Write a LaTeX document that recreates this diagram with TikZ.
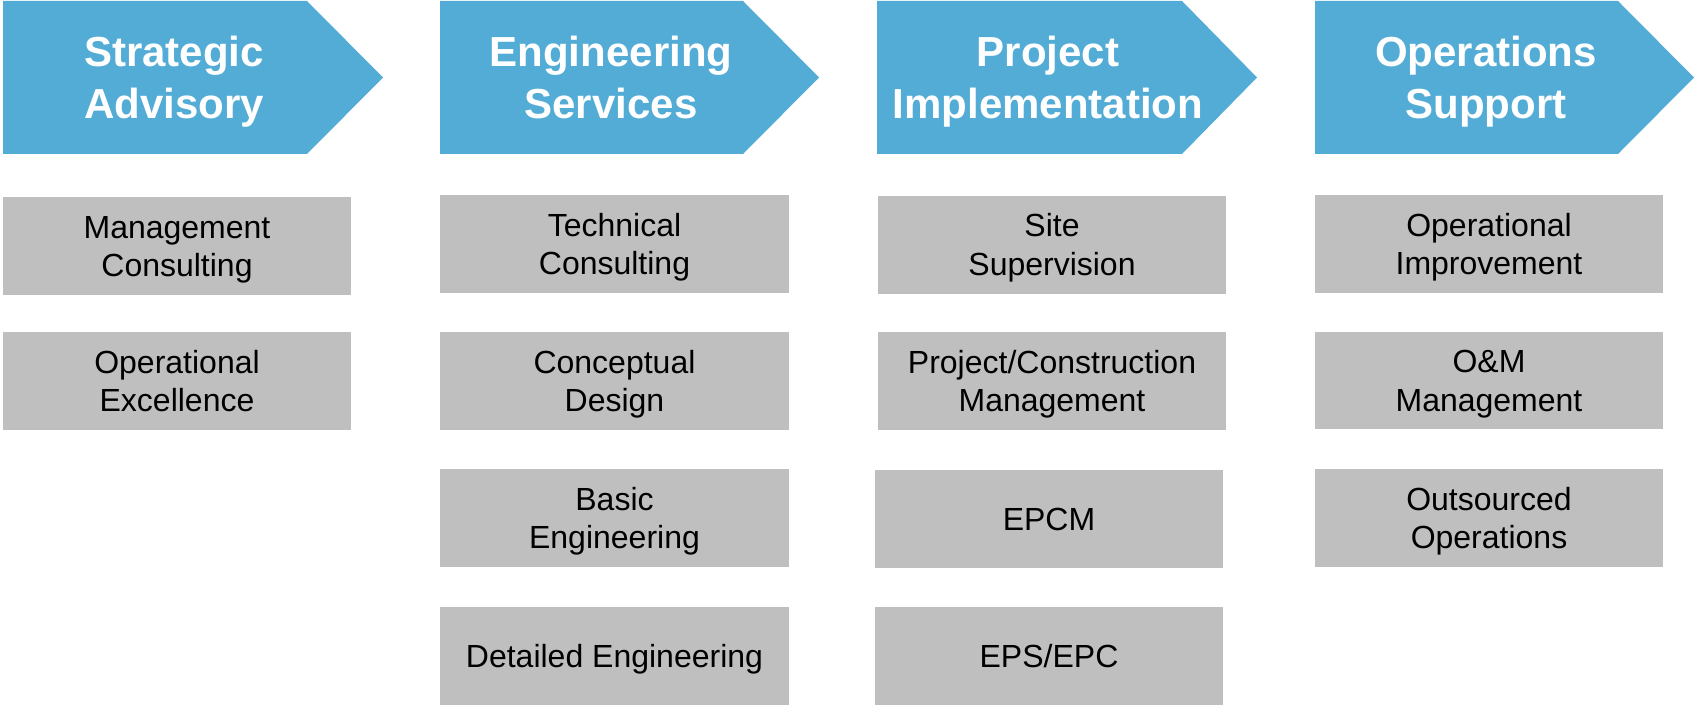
\documentclass[tikz,border=0pt]{standalone}
\usepackage{fontspec}
\setmainfont{Liberation Sans}
\definecolor{hdr}{RGB}{83,172,213}
\definecolor{cell}{RGB}{191,191,191}
\newcommand\cellfirst{\rule{0pt}{35pt}}
\newcommand\celllast{\rule[-11.55pt]{0pt}{0pt}}
\newcommand\hdrstrut{\rule[-15.6pt]{0pt}{52pt}}
\begin{document}
\begin{tikzpicture}[x=1pt,y=-1pt,
  chevron/.style={fill=hdr,draw=none},
  hdrtext/.style={text=white,font=\fontsize{42}{52}\selectfont\bfseries,align=center,inner sep=0pt},
  cellbox/.style={fill=cell,draw=none,inner sep=0pt,align=center,minimum width=348pt,minimum height=98pt,font=\fontsize{32}{38.5}\selectfont}
]
\useasboundingbox (0,0) rectangle (1695,706);
% header chevrons
\path[chevron] (3,1) -- (307,1) -- (383,77.5) -- (307,154) -- (3,154) -- cycle;
\path[chevron] (440,1) -- (743,1) -- (819,77.5) -- (743,154) -- (440,154) -- cycle;
\path[chevron] (877,1) -- (1182,1) -- (1257,77.5) -- (1182,154) -- (877,154) -- cycle;
\path[chevron] (1315,1) -- (1618,1) -- (1694,77.5) -- (1618,154) -- (1315,154) -- cycle;
\node[hdrtext] (h1) at (174,82.5) {\hdrstrut Strategic\\\hdrstrut Advisory};
\node[hdrtext] (h2) at (611,82.5) {\hdrstrut Engineering\\\hdrstrut Services};
\node[hdrtext] (h3) at (1048,82.5) {\hdrstrut Project\\\hdrstrut Implementation};
\node[hdrtext] (h4) at (1486,82.5) {\hdrstrut Operations\\\hdrstrut Support};
% column 1
\node[cellbox] (a1) at (177,246) {\cellfirst Management\\Consulting\celllast};
\node[cellbox] (a2) at (177,381) {\cellfirst Operational\\Excellence\celllast};
% column 2
\node[cellbox,minimum width=349pt] (b1) at (614.5,244) {\cellfirst Technical\\Consulting\celllast};
\node[cellbox,minimum width=349pt] (b2) at (614.5,381) {\cellfirst Conceptual\\Design\celllast};
\node[cellbox,minimum width=349pt] (b3) at (614.5,518) {\cellfirst Basic\\Engineering\celllast};
\node[cellbox,minimum width=349pt] (b4) at (614.5,656) {\cellfirst Detailed Engineering\celllast};
% column 3
\node[cellbox] (c1) at (1052,244.5) {\cellfirst Site\\Supervision\celllast};
\node[cellbox] (c2) at (1052,381) {\cellfirst Project/Construction\\Management\celllast};
\node[cellbox] (c3) at (1049,519) {\cellfirst EPCM\celllast};
\node[cellbox] (c4) at (1049,656) {\cellfirst EPS/EPC\celllast};
% column 4
\node[cellbox] (d1) at (1489,244) {\cellfirst Operational\\Improvement\celllast};
\node[cellbox,minimum height=97pt] (d2) at (1489,380.5) {\cellfirst O\&M\\Management\celllast};
\node[cellbox] (d3) at (1489,518) {\cellfirst Outsourced\\Operations\celllast};
\end{tikzpicture}
\end{document}
